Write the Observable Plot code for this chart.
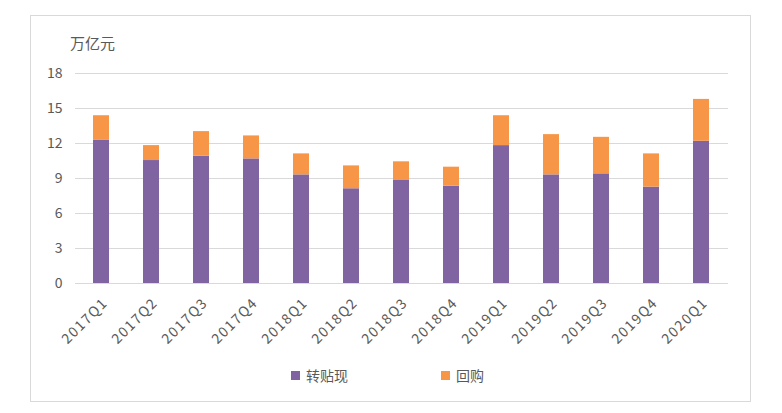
<!DOCTYPE html>
<html><head><meta charset="utf-8">
<script src="https://cdn.jsdelivr.net/npm/d3@7"></script>
<script src="https://cdn.jsdelivr.net/npm/@observablehq/plot@0.6"></script>
<style>
body{margin:0;background:#fff;font-family:"Noto Sans CJK SC","Noto Sans",sans-serif}
#wrap{position:relative;width:782px;height:413px;overflow:hidden}
#frame{position:absolute;left:30px;top:15px;width:721px;height:387px;border:1px solid #d9d9d9;box-sizing:border-box}
#unit{position:absolute;left:70px;top:33px;font-size:15px;color:#595959;line-height:20px}
#chart{position:absolute;left:0;top:0}
.leg{position:absolute;top:366px;font-size:14px;color:#595959;line-height:18px;display:flex;align-items:center}
.leg span.sw{display:inline-block;width:9px;height:9px;margin-right:6px}
</style></head>
<body>
<div id="wrap">
<div id="frame"></div>
<div id="chart"></div>
<div id="unit">万亿元</div>
<div id="legend"></div>
</div>
<script>
const quarters = ["2017Q1","2017Q2","2017Q3","2017Q4","2018Q1","2018Q2","2018Q3","2018Q4","2019Q1","2019Q2","2019Q3","2019Q4","2020Q1"];
const seriesNames = ["转贴现","回购"];
const seriesColors = ["#8064A2","#F79646"];
const discountValues = [12.30,10.54,10.91,10.68,9.31,8.12,8.83,8.34,11.82,9.31,9.40,8.26,12.19];
const repoValues = [2.08,1.28,2.11,1.97,1.80,1.96,1.60,1.63,2.56,3.45,3.13,2.85,3.59];
const yTicks = [0,3,6,9,12,15,18];

const data = [];
quarters.forEach((q,i)=>{
  data.push({q, s:seriesNames[0], v:discountValues[i]});
  data.push({q, s:seriesNames[1], v:repoValues[i]});
});

const fontFam = '"Noto Sans CJK SC","Noto Sans",sans-serif';
const chart = Plot.plot({
  width:782, height:355,
  marginLeft:75, marginRight:54, marginTop:73, marginBottom:72,
  style:{fontFamily:fontFam, background:"transparent", color:"#595959"},
  x:{domain:quarters, paddingInner:0.67, paddingOuter:0.335, label:null},
  y:{domain:[0,18], label:null},
  color:{domain:seriesNames, range:seriesColors},
  marks:[
    Plot.gridY(yTicks,{stroke:"#d9d9d9", strokeOpacity:1, strokeWidth:1}),
    Plot.barY(data,{x:"q", y:"v", fill:"s", order:seriesNames}),
    Plot.axisY(yTicks,{tickSize:0, tickPadding:13, fontSize:14, fill:"#595959", label:null}),
    Plot.axisX({tickSize:0, tickRotate:-45, tickPadding:17, dx:4, fontSize:14, fill:"#595959", label:null})
  ]
});
chart.querySelectorAll("g[aria-label='x-axis tick label'] text").forEach(t=>t.style.letterSpacing="1.5px");
document.getElementById("chart").appendChild(chart);

const leg = document.getElementById("legend");
const legX = [291, 441];
seriesNames.forEach((n,i)=>{
  const d = document.createElement("div");
  d.className="leg";
  d.style.left = legX[i]+"px";
  d.innerHTML = `<span class="sw" style="background:${seriesColors[i]}"></span>${n}`;
  leg.appendChild(d);
});
</script>
</body></html>
